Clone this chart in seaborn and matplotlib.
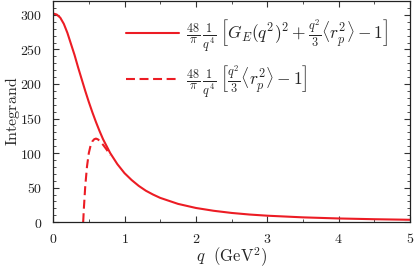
import numpy as np
import pandas as pd
import seaborn as sns
import matplotlib
matplotlib.use('Agg')
import matplotlib.pyplot as plt
from matplotlib.ticker import MultipleLocator, FuncFormatter

# values
q_full = [0.0, 0.05, 0.1, 0.15, 0.2, 0.25, 0.3, 0.35, 0.4, 0.45, 0.5, 0.55, 0.6,
          0.65, 0.7, 0.75, 0.8, 0.9, 1.0, 1.1, 1.2, 1.3, 1.4, 1.5, 1.75, 2.0,
          2.25, 2.5, 2.75, 3.0, 3.5, 4.0, 4.5, 5.0]
integrand_full = [302, 300.5, 296, 287, 274, 258, 242, 224, 207, 190, 174, 159, 145,
                  132, 120, 110, 100, 84, 71, 61, 52.5, 45.5, 40, 35.2, 26.5, 20.6,
                  16.5, 13.4, 11.1, 9.4, 7.0, 5.4, 4.3, 3.5]

q_approx = [0.421, 0.425, 0.43, 0.45, 0.475, 0.5, 0.525, 0.55, 0.575, 0.6, 0.625,
            0.65, 0.7, 0.75, 0.8]
integrand_approx = [0, 8, 18.6, 52, 81, 100, 111, 117, 120, 121, 120, 118, 112, 105, 97]

label_full = r'$\frac{48}{\pi}\,\frac{1}{q^4}\;\left[G_E(q^2)^2+\frac{q^2}{3}\langle r_p^2\rangle-1\right]$'
label_approx = r'$\frac{48}{\pi}\,\frac{1}{q^4}\;\left[\frac{q^2}{3}\langle r_p^2\rangle-1\right]$'

sns.set_style('ticks')
plt.rcParams['mathtext.fontset'] = 'cm'
plt.rcParams['font.family'] = ['DejaVu Serif']

red = '#ec1c24'

df1 = pd.DataFrame({'q': q_full, 'y': integrand_full})
df2 = pd.DataFrame({'q': q_approx, 'y': integrand_approx})

fig = plt.figure(figsize=(4.15, 2.69), dpi=100)
ax = fig.add_axes([0.128, 0.174, 0.860, 0.822])

sns.lineplot(data=df1, x='q', y='y', ax=ax, color=red, lw=1.5, label=label_full)
sns.lineplot(data=df2, x='q', y='y', ax=ax, color=red, lw=1.5, label=label_approx,
             dashes=False)
ax.lines[1].set_dashes((4.3, 2.2))

ax.set_xlim(0, 5)
ax.set_ylim(0, 320)
ax.xaxis.set_major_locator(MultipleLocator(1))
ax.xaxis.set_minor_locator(MultipleLocator(0.5))
ax.yaxis.set_major_locator(MultipleLocator(50))
ax.yaxis.set_minor_locator(MultipleLocator(10))
fmt = FuncFormatter(lambda v, p: r'$%g$' % v)
ax.xaxis.set_major_formatter(fmt)
ax.yaxis.set_major_formatter(fmt)
ax.tick_params(which='both', direction='in', top=True, right=True, labelsize=10,
               color='#333333', labelcolor='#222222')
ax.tick_params(which='major', length=4, width=0.8)
ax.tick_params(which='minor', length=2.5, width=0.6)
ax.tick_params(axis='x', pad=7)
ax.tick_params(axis='y', pad=8)
for s in ax.spines.values():
    s.set_linewidth(0.9)
    s.set_color('#222222')

ax.set_xlabel(r'$q\ \ (\mathrm{GeV}^2)$', fontsize=12, labelpad=0)
ax.set_ylabel(r'$\mathrm{Integrand}$', fontsize=11.5)
ax.yaxis.set_label_coords(-0.088, 0.5)

ax.legend(frameon=False, loc='upper right', bbox_to_anchor=(0.94, 0.928),
          fontsize=12.5, handlelength=3.1, handletextpad=0.4, labelspacing=0.55,
          borderaxespad=0, borderpad=0)

fig.savefig('out.png', dpi=100)
